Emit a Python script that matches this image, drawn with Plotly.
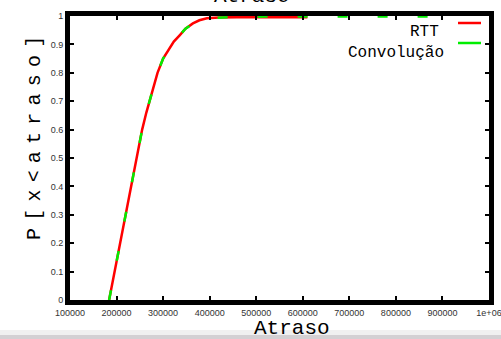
import plotly.graph_objects as go

# RTT CDF (red)
rtt_x = [184000, 196000, 208000, 220000, 232000, 244000, 255000, 264000, 271000, 279000,
         288000, 300000, 312000, 323000, 336000, 348000, 364000, 378000, 394000, 420000,
         458000, 520000, 610000]
rtt_y = [0.0, 0.1, 0.2, 0.3, 0.4, 0.5, 0.6, 0.66, 0.7, 0.74,
         0.8, 0.85, 0.88, 0.91, 0.933, 0.955, 0.974, 0.985, 0.992, 0.995,
         0.996, 0.996, 0.996]

# Convolution CDF (green dashed)
conv_x = [184000, 196000, 208000, 220000, 232000, 244000, 255000, 264000, 271000, 279000,
          288000, 300000, 312000, 323000, 336000, 348000, 364000, 378000, 394000, 420000,
          458000, 520000, 600000, 700000, 800000, 900000]
conv_y = [0.0, 0.1, 0.2, 0.3, 0.4, 0.5, 0.6, 0.66, 0.7, 0.74,
          0.8, 0.85, 0.88, 0.91, 0.933, 0.955, 0.974, 0.985, 0.992, 0.995,
          0.997, 0.998, 0.998, 0.998, 0.998, 0.998]

x_ticks = [100000, 200000, 300000, 400000, 500000, 600000, 700000, 800000, 900000, 1000000]
x_tick_labels = ["100000", "200000", "300000", "400000", "500000", "600000", "700000",
                 "800000", "900000", "1e+06"]
y_ticks = [0, 0.1, 0.2, 0.3, 0.4, 0.5, 0.6, 0.7, 0.8, 0.9, 1]
y_tick_labels = ["0", "0.1", "0.2", "0.3", "0.4", "0.5", "0.6", "0.7", "0.8", "0.9", "1"]

series_names = ["RTT", "Convolução"]
series_colors = ["#ff0000", "#00ee00"]
y_title = "P[x<atraso]"
x_title = "Atraso"

mono = "Liberation Mono"

fig = go.Figure()
fig.add_trace(go.Scatter(x=rtt_x, y=rtt_y, mode="lines", name=series_names[0],
                         line=dict(color=series_colors[0], width=2.5), showlegend=False))
fig.add_trace(go.Scatter(x=conv_x, y=conv_y, mode="lines", name=series_names[1],
                         line=dict(color=series_colors[1], width=2.5, dash="10px,30px"),
                         showlegend=False))

axis_common = dict(showgrid=False, zeroline=False, showline=True, linecolor="black",
                   linewidth=5, mirror="ticks", ticks="inside", ticklen=4, tickwidth=2,
                   tickcolor="black", automargin=False, ticklabeloverflow="allow",
                   tickfont=dict(family="Liberation Sans, Arial", size=9, color="#333333"))

fig.update_xaxes(range=[100000, 1000000], tickvals=x_ticks, ticktext=x_tick_labels, **axis_common)
fig.update_yaxes(range=[0, 1], tickvals=y_ticks, ticktext=y_tick_labels, **axis_common)

spaced_title = '<span style="font-size:12px"> </span>'.join(
    ch.replace("<", "&lt;") for ch in y_title)

annotations = [
    dict(text=x_title, x=(252 - 70) / 419, y=(300 - (-3)) / 284, xref="paper", yref="paper",
         showarrow=False, xanchor="center", yanchor="middle",
         font=dict(family=mono, size=21, color="black")),
    dict(text=x_title, x=(292 - 70) / 419, y=(300 - 328) / 284, xref="paper", yref="paper",
         showarrow=False, xanchor="center", yanchor="middle",
         font=dict(family=mono, size=21, color="black")),
    dict(text=spaced_title, x=(34 - 70) / 419, y=(300 - 138) / 284,
         xref="paper", yref="paper", showarrow=False, textangle=-90,
         xanchor="center", yanchor="middle",
         font=dict(family=mono, size=20, color="black")),
    dict(text=series_names[0], x=(441 - 70) / 419, y=(300 - 32) / 284, xref="paper", yref="paper",
         showarrow=False, xanchor="right", yanchor="middle",
         font=dict(family=mono, size=16, color="black")),
    dict(text=series_names[1], x=(446 - 70) / 419, y=(300 - 53) / 284, xref="paper", yref="paper",
         showarrow=False, xanchor="right", yanchor="middle",
         font=dict(family=mono, size=16, color="black")),
]

shapes = [
    dict(type="rect", xref="paper", yref="paper", x0=-0.2, x1=1.1,
         y0=(300 - 335) / 284, y1=(300 - 330) / 284, fillcolor="#f0f0f0",
         line=dict(width=0), layer="below"),
    dict(type="rect", xref="paper", yref="paper", x0=-0.2, x1=1.1,
         y0=(300 - 340) / 284, y1=(300 - 335) / 284, fillcolor="#d3d0d3",
         line=dict(width=0), layer="below"),
    dict(type="line", xref="paper", yref="paper", x0=(458 - 70) / 419, x1=(481 - 70) / 419,
         y0=(300 - 23) / 284, y1=(300 - 23) / 284, line=dict(color=series_colors[0], width=2.5)),
    dict(type="line", xref="paper", yref="paper", x0=(458 - 70) / 419, x1=(481 - 70) / 419,
         y0=(300 - 43) / 284, y1=(300 - 43) / 284, line=dict(color=series_colors[1], width=2.5)),
]

fig.update_layout(
    width=501, height=339,
    margin=dict(l=70, r=12, t=16, b=39),
    paper_bgcolor="white", plot_bgcolor="white",
    annotations=annotations, shapes=shapes,
    showlegend=False,
)

fig.write_html("out.html")
